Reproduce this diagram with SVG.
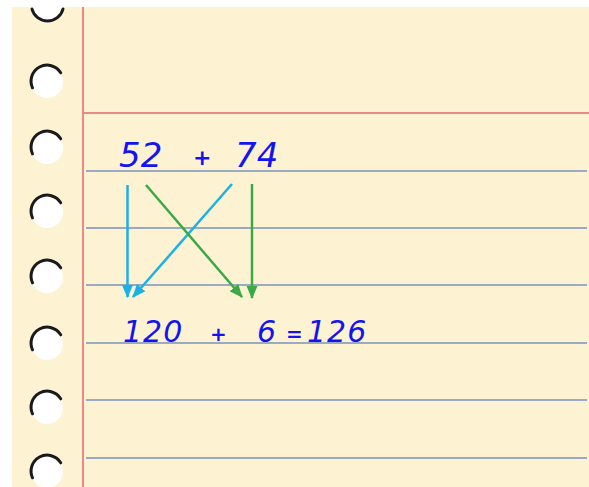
<svg xmlns="http://www.w3.org/2000/svg" width="589" height="487" viewBox="0 0 589 487">
<defs>
<style>
.rule{stroke:#9aaac2;stroke-width:2}
.red{stroke:#e98a86;stroke-width:2}
.hole{fill:#ffffff}
.rim{fill:none;stroke:#1a1a1a;stroke-width:3;stroke-linecap:round}
.num{font-family:"DejaVu Sans","Liberation Sans",sans-serif;font-style:italic;fill:#1414f0}
.op{font-family:"DejaVu Sans","Liberation Sans",sans-serif;font-weight:bold;fill:#1414f0}
.ab{stroke:#1ab2e6;stroke-width:2.5;fill:none}
.ag{stroke:#3ca946;stroke-width:2.5;fill:none}
</style>
<marker id="mb" viewBox="0 0 12 10" refX="11" refY="5" markerWidth="5.5" markerHeight="4.5" orient="auto" markerUnits="strokeWidth"><path d="M0,0 L12,5 L0,10 z" fill="#1ab2e6"/></marker>
<marker id="mg" viewBox="0 0 12 10" refX="11" refY="5" markerWidth="5.5" markerHeight="4.5" orient="auto" markerUnits="strokeWidth"><path d="M0,0 L12,5 L0,10 z" fill="#3ca946"/></marker>
</defs>
<rect width="589" height="487" fill="#ffffff"/>
<rect x="12" y="7" width="577" height="480" fill="#fdf3d3"/>
<g id="paper">
<line class="red" x1="83" y1="7" x2="83" y2="487"/>
<line class="red" x1="83" y1="113" x2="589" y2="113"/>
<line class="rule" x1="86" y1="171" x2="587" y2="171"/>
<line class="rule" x1="86" y1="228" x2="587" y2="228"/>
<line class="rule" x1="86" y1="285" x2="587" y2="285"/>
<line class="rule" x1="86" y1="343" x2="587" y2="343"/>
<line class="rule" x1="86" y1="400" x2="587" y2="400"/>
<line class="rule" x1="86" y1="458" x2="587" y2="458"/>
</g>
<g id="holes">
<path class="hole" d="M31,7 A16,16 0 0 0 63,7 z"/>
<path class="rim" d="M32,9 A16,16 0 0 0 63,9"/>
<circle class="hole" cx="47" cy="82" r="16"/><path class="rim" d="M32.5,87.8 A16,16 0 0 1 60.7,72.8"/>
<circle class="hole" cx="47" cy="148" r="16"/><path class="rim" d="M32.5,153.8 A16,16 0 0 1 60.7,138.8"/>
<circle class="hole" cx="47" cy="212" r="16"/><path class="rim" d="M32.5,217.8 A16,16 0 0 1 60.7,202.8"/>
<circle class="hole" cx="47" cy="277" r="16"/><path class="rim" d="M32.5,282.8 A16,16 0 0 1 60.7,267.8"/>
<circle class="hole" cx="47" cy="344" r="16"/><path class="rim" d="M32.5,349.8 A16,16 0 0 1 60.7,334.8"/>
<circle class="hole" cx="47" cy="408" r="16"/><path class="rim" d="M32.5,413.8 A16,16 0 0 1 60.7,398.8"/>
<circle class="hole" cx="47" cy="472" r="16"/><path class="rim" d="M32.5,477.8 A16,16 0 0 1 60.7,462.8"/>
</g>
<g id="top-sum">
<text class="num" x="119" y="167" font-size="34">52</text>
<text class="op" x="193" y="165" font-size="22">+</text>
<text class="num" x="235" y="167" font-size="34">74</text>
</g>
<g id="bottom-sum">
<text class="num" x="123" y="342" font-size="30" letter-spacing="1">120</text>
<text class="op" x="210" y="341" font-size="20">+</text>
<text class="num" x="257" y="342" font-size="30">6</text>
<text class="op" x="286" y="341" font-size="20">=</text>
<text class="num" x="307" y="342" font-size="30" letter-spacing="1">126</text>
</g>
<g id="connectors">
<line class="ab" x1="127.5" y1="185" x2="127.5" y2="297" marker-end="url(#mb)"/>
<line class="ab" x1="232" y1="184" x2="133" y2="297" marker-end="url(#mb)"/>
<line class="ag" x1="146" y1="185" x2="242" y2="297" marker-end="url(#mg)"/>
<line class="ag" x1="252" y1="184" x2="252" y2="298" marker-end="url(#mg)"/>
</g>
</svg>
